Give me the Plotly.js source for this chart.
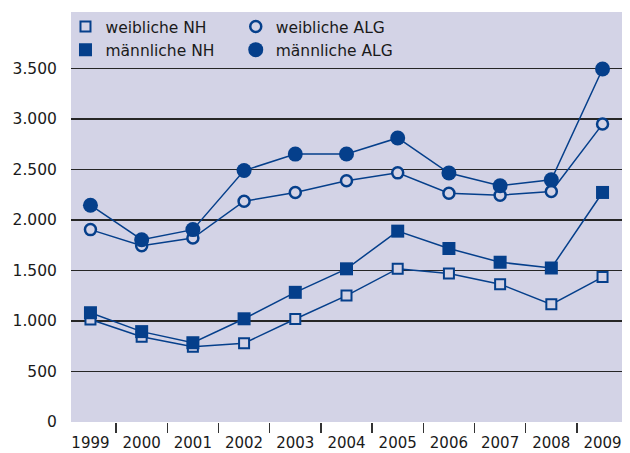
<!DOCTYPE html>
<html lang="de">
<head>
    <meta charset="UTF-8"/>
    <title>NH und ALG nach Geschlecht</title>
    <script src="https://cdn.plot.ly/plotly-3.0.1.min.js"></script>
    <style>
    html, body { margin: 0; padding: 0; background: white; }
    #chart { width: 630px; height: 453px; }
    </style>
</head>
<body>
    <div id="chart"></div>
    <script>
        // data
        var years = [1999, 2000, 2001, 2002, 2003, 2004, 2005, 2006, 2007, 2008, 2009];
        var weiblicheNH  = [1015, 845, 745, 780, 1020, 1252, 1518, 1470, 1365, 1165, 1435];
        var maennlicheNH = [1082, 895, 785, 1022, 1284, 1517, 1890, 1718, 1582, 1525, 2273];
        var weiblicheALG  = [1905, 1746, 1822, 2186, 2272, 2390, 2467, 2265, 2246, 2283, 2950];
        var maennlicheALG = [2147, 1805, 1905, 2490, 2653, 2654, 2813, 2465, 2340, 2398, 3496];
        var yTicks = [0, 500, 1000, 1500, 2000, 2500, 3000, 3500];

        var blue = '#053f8b';
        var bg = '#d3d3e6';
        var font = '"DejaVu Sans", Verdana, sans-serif';

        var series = [
            { name: 'weibliche NH',  y: weiblicheNH,  symbol: 'square', size: 10, fill: bg,   lw: 2,   legend: 'legend' },
            { name: 'männliche NH',  y: maennlicheNH, symbol: 'square', size: 13, fill: blue, lw: 0,   legend: 'legend' },
            { name: 'weibliche ALG', y: weiblicheALG, symbol: 'circle', size: 11, fill: bg,   lw: 2.5, legend: 'legend2' },
            { name: 'männliche ALG', y: maennlicheALG, symbol: 'circle', size: 15, fill: blue, lw: 0,  legend: 'legend2' }
        ];

        var data = [];
        // lines first so every marker sits on top
        series.forEach(function (s) {
            data.push({
                x: years, y: s.y, type: 'scatter', mode: 'lines',
                line: { color: blue, width: 1.5 },
                showlegend: false, hoverinfo: 'skip'
            });
        });
        series.forEach(function (s) {
            data.push({
                x: years, y: s.y, type: 'scatter', mode: 'markers',
                name: s.name, legend: s.legend,
                marker: { symbol: s.symbol, size: s.size, color: s.fill,
                          line: { color: blue, width: s.lw } }
            });
        });

        var legendStyle = {
            orientation: 'v', xanchor: 'left', yanchor: 'top', y: 1.005,
            bgcolor: 'rgba(0,0,0,0)', borderwidth: 0,
            font: { family: font, size: 15.5, color: '#1a1a1a' },
            tracegroupgap: 0, itemwidth: 30
        };

        var layout = {
            width: 630, height: 453,
            margin: { l: 71, r: 8, t: 12, b: 31 },
            paper_bgcolor: 'white',
            plot_bgcolor: bg,
            separators: ',.',
            font: { family: font, size: 15.5, color: '#1a1a1a' },
            showlegend: true,
            legend: Object.assign({}, legendStyle, { x: -0.01 }),
            legend2: Object.assign({}, legendStyle, { x: 0.299 }),
            xaxis: {
                range: [1998.62, 2009.38],
                tickvals: years,
                ticktext: years.map(String),
                ticks: 'outside', ticklen: 7, tickcolor: 'rgba(0,0,0,0)',
                showgrid: false, zeroline: false, showline: false,
                minor: {
                    tickvals: years.slice(1).map(function (y) { return y - 0.5; }),
                    ticks: 'outside', ticklen: 10, tickwidth: 1.5, tickcolor: '#333',
                    showgrid: false
                },
                tickfont: { family: font, size: 15, color: '#1a1a1a' }
            },
            yaxis: {
                range: [0, 4060],
                tickvals: yTicks,
                tickformat: ',d',
                showgrid: false,
                zeroline: false, showline: false,
                ticks: 'outside', ticklen: 10, tickcolor: 'rgba(0,0,0,0)',
                // grid only above zero, as in the original
                minor: {
                    tickvals: yTicks.slice(1),
                    showgrid: true, gridcolor: '#262626', gridwidth: 1.6,
                    ticks: ''
                },
                tickfont: { family: font, size: 15.5, color: '#1a1a1a' }
            }
        };

        Plotly.newPlot('chart', data, layout, { staticPlot: true });
    </script>
</body>
</html>
